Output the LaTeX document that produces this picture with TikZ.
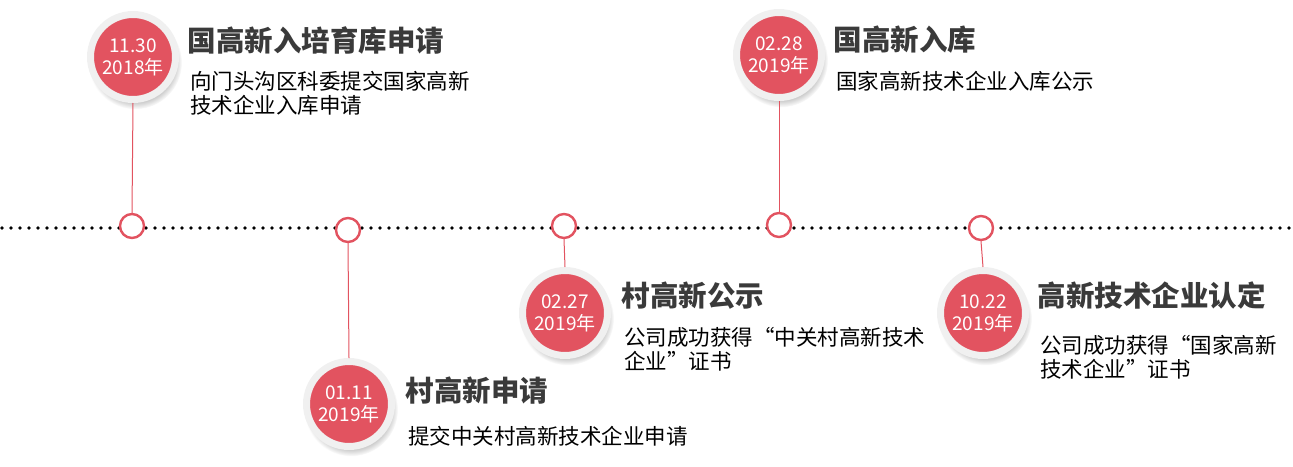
\documentclass[tikz,border=0pt]{standalone}
\usepackage{fontspec}
\setmainfont{Noto Sans CJK SC}
\usetikzlibrary{shadows}
\definecolor{dotred}{HTML}{E25360}
\definecolor{txtgray}{HTML}{3A3A3A}
\tikzset{
    ringdot/.style={circle, draw=dotred, line width=2.4pt, fill=white, minimum size=24pt, inner sep=0pt},
    datebadge/.style={circle, fill=dotred, draw=white!94!black, line width=7pt, minimum size=85pt, inner sep=0pt,
        text=white, font=\fontsize{19pt}{22pt}\selectfont, align=center,
        circular drop shadow={shadow xshift=2pt, shadow yshift=-5pt, opacity=0.4}},
    headline/.style={anchor=west, text=txtgray, font=\fontsize{28.5pt}{30pt}\selectfont\bfseries},
    blurb/.style={anchor=north west, text=black, font=\fontsize{21.5pt}{24pt}\selectfont, align=left, inner sep=0pt},
    stem/.style={draw=dotred, line width=1pt}
}
\begin{document}
\begin{tikzpicture}[x=1pt, y=-1pt]
    \useasboundingbox (0,0) rectangle (1293,466);
    \draw[line width=3.6pt, line cap=round, dash pattern=on 0pt off 9pt] (2,228) -- (1293,228);

    % small markers on the line
    \node[ringdot] (m1) at (132,226) {};
    \node[ringdot] (m2) at (348,230) {};
    \node[ringdot] (m3) at (564,226) {};
    \node[ringdot] (m4) at (779,225) {};
    \node[ringdot] (m5) at (981,228) {};

    % date badges
    \node[datebadge] (d1) at (133,57)  {11.30\\2018年};
    \node[datebadge] (d2) at (349,404) {01.11\\2019年};
    \node[datebadge] (d3) at (565,313) {02.27\\2019年};
    \node[datebadge] (d4) at (779,55)  {02.28\\2019年};
    \node[datebadge] (d5) at (983,313) {10.22\\2019年};

    \draw[stem] (d1.south) -- (m1.north);
    \draw[stem] (m2.south) -- (d2.north);
    \draw[stem] (m3.south) -- (d3.north);
    \draw[stem] (d4.south) -- (m4.north);
    \draw[stem] (m5.south) -- (d5.north);

    % titles and notes
    \node[headline] (t1) at (184,40)  {国高新入培育库申请};
    \node[blurb] (b1) at (190,71)  {向门头沟区科委提交国家高新\\技术企业入库申请};
    \node[headline] (t2) at (402,391) {村高新申请};
    \node[blurb] (b2) at (408,426) {提交中关村高新技术企业申请};
    \node[headline] (t3) at (618,296) {村高新公示};
    \node[blurb] (b3) at (624,327) {公司成功获得“中关村高新技术\\企业”证书};
    \node[headline] (t4) at (830,40)  {国高新入库};
    \node[blurb] (b4) at (836,71)  {国家高新技术企业入库公示};
    \node[headline] (t5) at (1034,295) {高新技术企业认定};
    \node[blurb] (b5) at (1040,335) {公司成功获得“国家高新\\技术企业”证书};
\end{tikzpicture}
\end{document}
